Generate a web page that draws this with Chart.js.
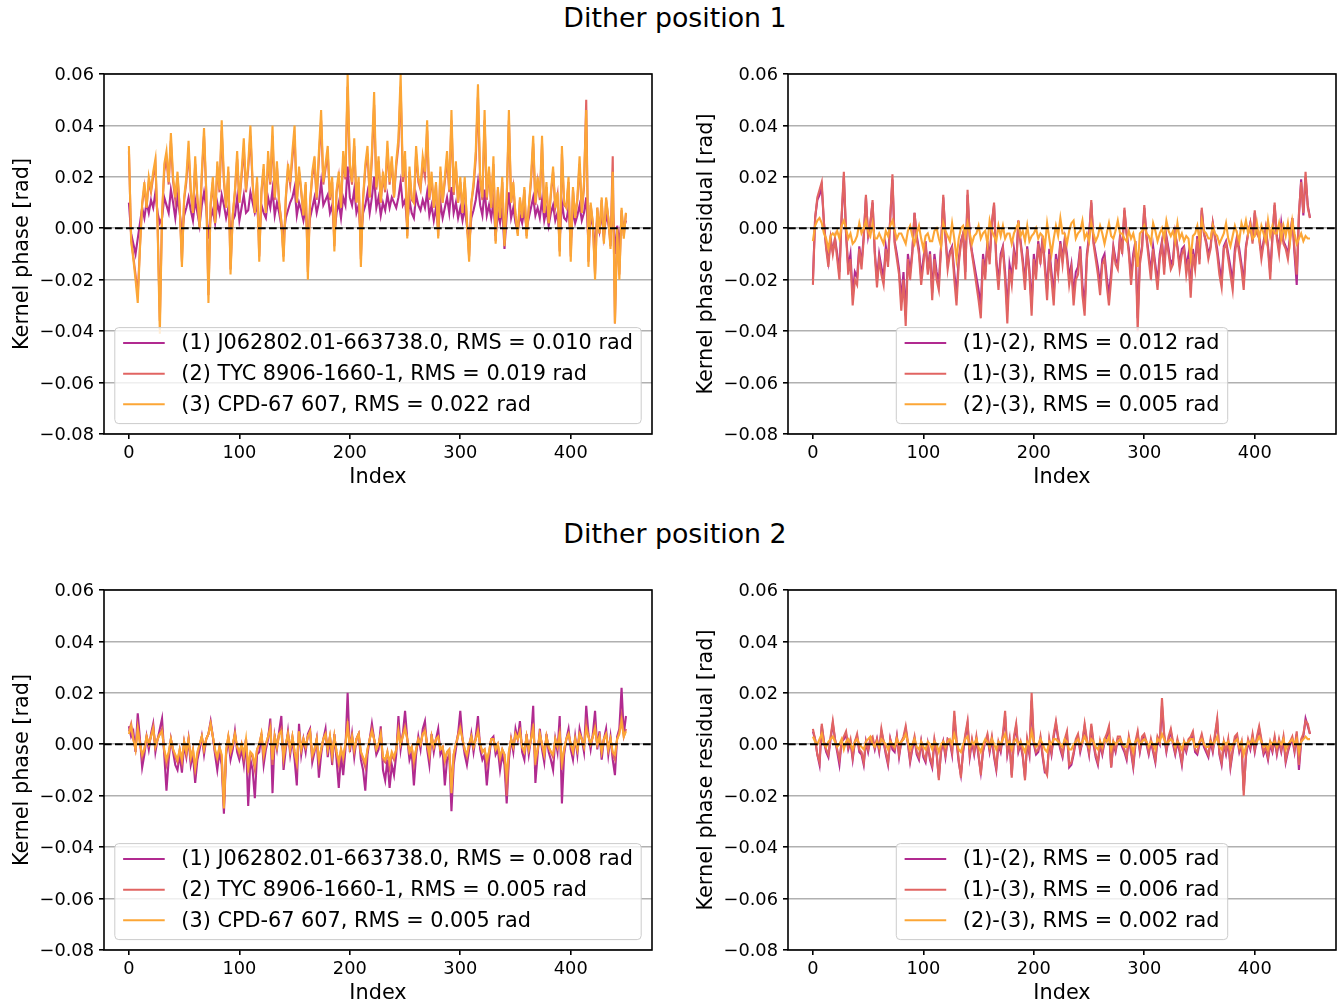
<!DOCTYPE html>
<html>
<head>
<meta charset="utf-8">
<script src="https://cdn.jsdelivr.net/npm/chart.js@4/dist/chart.umd.min.js"></script>
<style>
  html, body { margin: 0; padding: 0; background: #fff; width: 1343px; height: 1005px; overflow: hidden; }
  canvas { position: absolute; }
  .suptitle { position: absolute; left: 475px; width: 400px; text-align: center;
    font-family: "DejaVu Sans", sans-serif; font-size: 26.8px; line-height: 30px; color: #000; }
</style>
</head>
<body>
<div class="suptitle" style="top:3px">Dither position 1</div>
<div class="suptitle" style="top:519px">Dither position 2</div>
<canvas id="d1kp" width="672" height="450" style="left:0;top:54px"></canvas>
<canvas id="d1res" width="671" height="450" style="left:672px;top:54px"></canvas>
<canvas id="d2kp" width="672" height="450" style="left:0;top:570px"></canvas>
<canvas id="d2res" width="671" height="450" style="left:672px;top:570px"></canvas>
<script>
// Kernel-phase index (every second kernel phase)
const kpIndex = [
  0,2,4,6,8,10,12,14,16,18, 20,22,24,26,28,30,32,34,36,38,
  40,42,44,46,48,50,52,54,56,58, 60,62,64,66,68,70,72,74,76,78,
  80,82,84,86,88,90,92,94,96,98, 100,102,104,106,108,110,112,114,116,118,
  120,122,124,126,128,130,132,134,136,138, 140,142,144,146,148,150,152,154,156,158,
  160,162,164,166,168,170,172,174,176,178, 180,182,184,186,188,190,192,194,196,198,
  200,202,204,206,208,210,212,214,216,218, 220,222,224,226,228,230,232,234,236,238,
  240,242,244,246,248,250,252,254,256,258, 260,262,264,266,268,270,272,274,276,278,
  280,282,284,286,288,290,292,294,296,298, 300,302,304,306,308,310,312,314,316,318,
  320,322,324,326,328,330,332,334,336,338, 340,342,344,346,348,350,352,354,356,358,
  360,362,364,366,368,370,372,374,376,378, 380,382,384,386,388,390,392,394,396,398,
  400,402,404,406,408,410,412,414,416,418, 420,422,424,426,428,430,432,434,436,438,
  440,442,444,446,448,450
];

// Dither position 1: kernel phases of the three stars [rad]
const d1Star1 = [
  0.010,-0.002,-0.006,-0.010,-0.004,0.002,0.008,0.004,0.010,0.006,
  0.011,0.008,0.014,0.006,0.002,0.004,0.012,0.009,0.006,0.015,
  0.010,0.004,0.012,0.006,-0.002,0.005,0.008,0.012,0.007,0.003,
  0.011,0.006,0.001,0.009,0.014,0.008,-0.004,0.004,0.007,0.002,
  0.010,0.006,0.013,0.009,0.004,0.008,-0.002,0.003,0.005,0.012,
  0.003,0.008,0.013,0.006,0.007,0.014,0.010,0.006,0.009,-0.003,
  0.009,0.006,0.004,0.012,0.008,0.015,0.005,0.010,0.006,0.001,
  -0.003,0.004,0.007,0.010,0.012,0.016,0.005,0.010,0.007,0.003,
  0.008,-0.005,0.004,0.008,0.012,0.006,0.010,0.018,0.009,0.011,
  0.013,0.006,0.009,-0.002,0.006,0.010,0.004,0.012,0.009,0.024,
  0.012,0.009,0.015,0.006,0.009,-0.004,0.006,0.009,0.014,0.006,
  0.012,0.020,0.008,0.012,0.005,0.010,0.007,0.013,0.008,0.012,
  0.010,0.008,0.012,0.018,0.009,0.011,0.001,0.011,0.006,0.004,
  0.013,0.009,0.007,0.011,0.008,0.014,0.005,0.009,0.003,0.008,
  0.000,0.010,0.004,0.008,0.012,0.006,0.016,0.006,0.010,0.004,
  0.008,0.003,0.008,0.001,-0.006,0.004,0.007,0.011,0.018,0.009,
  0.005,0.015,0.005,0.009,0.004,0.010,-0.003,0.006,0.002,0.008,
  -0.008,0.005,0.014,0.004,0.008,0.002,-0.001,0.005,0.002,0.007,
  0.000,0.004,0.008,0.012,0.005,0.008,0.004,0.011,0.003,0.007,
  0.001,0.006,0.009,0.003,0.006,-0.004,0.010,0.004,0.003,0.008,
  -0.005,0.007,0.002,0.005,0.009,0.003,0.006,0.012,-0.006,0.004,
  0.001,-0.008,0.004,-0.001,0.006,-0.003,0.005,0.002,-0.004,0.008,
  -0.010,0.001,-0.006,0.004,0.000,0.003
];
const d1Star2 = [
  0.030,-0.004,-0.011,-0.018,-0.026,-0.007,0.009,0.016,0.008,0.018,
  0.014,0.020,0.025,0.001,-0.036,0.005,0.022,0.027,0.017,0.034,
  0.018,0.011,0.020,0.008,-0.013,0.011,0.018,0.030,0.014,0.006,
  0.025,0.011,0.001,0.020,0.036,0.014,-0.026,0.009,0.018,0.002,
  0.024,0.014,0.038,0.018,0.008,0.022,-0.016,0.005,0.014,0.027,
  0.010,0.020,0.031,0.014,0.023,0.036,0.017,0.006,0.018,-0.011,
  0.014,0.023,0.006,0.027,0.017,0.036,0.011,0.024,0.010,0.003,
  -0.011,0.011,0.023,0.017,0.027,0.036,0.010,0.022,0.014,0.005,
  0.017,-0.017,0.010,0.020,0.025,0.011,0.027,0.042,0.017,0.023,
  0.029,0.011,0.018,-0.007,0.014,0.020,0.008,0.027,0.019,0.055,
  0.023,0.017,0.032,0.010,0.018,-0.012,0.011,0.023,0.029,0.012,
  0.027,0.048,0.015,0.026,0.010,0.020,0.014,0.031,0.017,0.026,
  0.012,0.024,0.032,0.055,0.018,0.027,-0.003,0.022,0.011,0.010,
  0.029,0.018,0.015,0.025,0.020,0.038,0.011,0.020,0.008,0.017,
  -0.003,0.022,0.010,0.018,0.027,0.014,0.042,0.013,0.024,0.010,
  0.018,0.006,0.018,0.003,-0.011,0.010,0.016,0.027,0.051,0.018,
  0.011,0.042,0.011,0.022,0.008,0.025,-0.005,0.015,0.004,0.018,
  -0.006,0.011,0.042,0.010,0.016,0.005,-0.002,0.011,0.004,0.015,
  -0.003,0.008,0.018,0.033,0.009,0.018,0.011,0.033,0.006,0.016,
  0.002,0.013,0.022,0.008,0.013,-0.009,0.029,0.009,0.008,0.018,
  -0.011,0.015,0.004,0.011,0.025,0.006,0.016,0.050,-0.013,0.009,
  0.002,-0.018,0.008,-0.002,0.011,-0.005,0.011,0.004,-0.007,0.028,
  -0.037,0.000,-0.018,0.007,-0.003,0.006
];
const d1Star3 = [
  0.032,-0.005,-0.012,-0.020,-0.029,-0.008,0.010,0.018,0.008,0.020,
  0.015,0.022,0.027,0.000,-0.041,0.005,0.025,0.030,0.018,0.037,
  0.020,0.012,0.022,0.008,-0.015,0.012,0.020,0.034,0.015,0.006,
  0.028,0.012,0.000,0.022,0.039,0.015,-0.029,0.010,0.020,0.002,
  0.026,0.015,0.042,0.020,0.008,0.024,-0.018,0.005,0.015,0.030,
  0.010,0.022,0.035,0.015,0.025,0.040,0.018,0.006,0.020,-0.013,
  0.015,0.025,0.006,0.030,0.018,0.040,0.012,0.026,0.010,0.002,
  -0.013,0.012,0.025,0.018,0.030,0.040,0.010,0.024,0.015,0.005,
  0.018,-0.020,0.010,0.022,0.028,0.012,0.030,0.046,0.018,0.025,
  0.032,0.012,0.020,-0.009,0.015,0.022,0.008,0.030,0.020,0.060,
  0.025,0.018,0.035,0.010,0.020,-0.015,0.012,0.025,0.032,0.012,
  0.030,0.053,0.016,0.028,0.010,0.022,0.015,0.034,0.018,0.028,
  0.012,0.026,0.035,0.060,0.020,0.030,-0.004,0.024,0.012,0.010,
  0.032,0.020,0.016,0.028,0.022,0.042,0.012,0.022,0.008,0.018,
  -0.004,0.024,0.010,0.020,0.030,0.015,0.046,0.014,0.026,0.010,
  0.020,0.006,0.020,0.002,-0.013,0.010,0.018,0.030,0.056,0.020,
  0.012,0.046,0.012,0.024,0.008,0.028,-0.006,0.016,0.004,0.020,
  -0.007,0.012,0.046,0.010,0.018,0.005,-0.003,0.012,0.004,0.016,
  -0.004,0.008,0.020,0.036,0.010,0.020,0.012,0.036,0.006,0.018,
  0.002,0.014,0.024,0.008,0.014,-0.011,0.032,0.010,0.008,0.020,
  -0.013,0.016,0.004,0.012,0.028,0.006,0.018,0.046,-0.015,0.010,
  0.002,-0.020,0.008,-0.002,0.012,-0.006,0.012,0.004,-0.008,0.022,
  -0.037,0.000,-0.020,0.008,-0.004,0.006
];

// Dither position 1: pairwise residuals [rad]
const d1Res12 = [
  -0.020,0.004,0.011,0.013,0.016,0.002,-0.007,-0.013,-0.004,-0.009,
  -0.004,-0.010,-0.017,0.004,0.020,-0.002,-0.015,-0.010,-0.026,-0.017,
  -0.019,-0.007,-0.014,-0.003,0.012,-0.003,0.002,0.010,-0.009,-0.020,
  -0.010,-0.015,-0.019,-0.007,-0.013,0.004,0.019,-0.005,-0.010,-0.016,
  -0.028,-0.017,-0.034,-0.010,-0.017,-0.009,0.006,-0.003,-0.008,-0.019,
  -0.012,-0.005,-0.016,-0.009,-0.025,-0.010,-0.017,-0.021,-0.007,0.012,
  -0.003,-0.014,-0.009,-0.007,-0.017,-0.026,-0.012,-0.005,-0.002,-0.017,
  0.013,-0.003,-0.009,-0.014,-0.019,-0.024,-0.030,-0.010,-0.017,-0.005,
  -0.012,0.002,0.009,-0.012,-0.021,-0.010,-0.007,-0.017,-0.032,-0.014,
  -0.019,-0.008,-0.014,0.003,-0.005,-0.012,-0.021,-0.007,-0.016,-0.030,
  -0.010,-0.017,-0.005,-0.012,-0.003,-0.014,-0.024,-0.008,-0.017,-0.026,
  -0.010,-0.016,-0.005,-0.012,-0.004,-0.010,-0.019,-0.014,-0.026,-0.017,
  -0.015,-0.007,-0.022,-0.030,-0.010,-0.003,0.010,-0.005,-0.010,-0.015,
  -0.022,-0.012,-0.010,-0.019,-0.026,-0.017,-0.007,-0.012,-0.014,-0.003,
  -0.008,0.007,-0.002,-0.008,-0.019,-0.010,-0.005,-0.035,-0.012,-0.007,
  0.008,-0.003,-0.010,-0.017,-0.007,-0.014,-0.021,-0.010,-0.005,-0.015,
  -0.003,-0.008,-0.014,-0.012,-0.002,-0.007,-0.014,-0.008,-0.007,-0.015,
  -0.010,-0.024,-0.008,-0.014,-0.003,-0.012,0.007,-0.002,-0.005,-0.010,
  -0.007,0.002,-0.003,-0.008,-0.015,-0.020,-0.007,-0.005,-0.010,-0.015,
  -0.021,-0.008,-0.003,-0.008,-0.014,-0.021,-0.007,-0.002,0.002,-0.005,
  0.006,-0.002,-0.003,-0.010,-0.005,0.000,-0.007,-0.017,-0.003,0.009,
  -0.003,-0.008,0.002,-0.005,-0.007,-0.010,-0.003,0.004,-0.010,-0.022,
  0.005,0.019,0.005,0.020,0.009,0.004
];
const d1Res13 = [
  -0.022,0.004,0.012,0.015,0.018,0.002,-0.008,-0.015,-0.004,-0.010,
  -0.004,-0.012,-0.020,0.005,0.022,-0.002,-0.018,-0.012,-0.030,-0.020,
  -0.022,-0.008,-0.016,-0.004,0.013,-0.004,0.002,0.011,-0.010,-0.023,
  -0.012,-0.018,-0.022,-0.008,-0.015,0.004,0.021,-0.006,-0.012,-0.018,
  -0.032,-0.020,-0.038,-0.012,-0.020,-0.010,0.006,-0.004,-0.010,-0.022,
  -0.014,-0.006,-0.018,-0.010,-0.028,-0.012,-0.020,-0.024,-0.008,0.013,
  -0.004,-0.016,-0.010,-0.008,-0.020,-0.030,-0.014,-0.006,-0.002,-0.020,
  0.015,-0.004,-0.010,-0.016,-0.022,-0.028,-0.035,-0.012,-0.020,-0.006,
  -0.014,0.002,0.010,-0.014,-0.024,-0.012,-0.008,-0.020,-0.037,-0.016,
  -0.022,-0.010,-0.016,0.003,-0.006,-0.014,-0.024,-0.008,-0.018,-0.034,
  -0.012,-0.020,-0.006,-0.014,-0.004,-0.016,-0.028,-0.010,-0.020,-0.030,
  -0.012,-0.018,-0.006,-0.014,-0.005,-0.012,-0.022,-0.016,-0.030,-0.020,
  -0.018,-0.008,-0.026,-0.034,-0.012,-0.004,0.011,-0.006,-0.012,-0.018,
  -0.026,-0.014,-0.012,-0.022,-0.030,-0.020,-0.008,-0.014,-0.016,-0.004,
  -0.010,0.008,-0.002,-0.010,-0.022,-0.012,-0.006,-0.040,-0.014,-0.008,
  0.009,-0.004,-0.012,-0.020,-0.008,-0.016,-0.024,-0.012,-0.006,-0.018,
  -0.004,-0.010,-0.016,-0.014,-0.002,-0.008,-0.016,-0.010,-0.008,-0.018,
  -0.012,-0.027,-0.010,-0.016,-0.004,-0.014,0.008,-0.002,-0.006,-0.012,
  -0.008,0.002,-0.004,-0.010,-0.018,-0.023,-0.008,-0.006,-0.012,-0.018,
  -0.024,-0.010,-0.004,-0.010,-0.016,-0.024,-0.008,-0.002,0.002,-0.006,
  0.007,-0.002,-0.004,-0.012,-0.006,0.000,-0.008,-0.020,-0.004,0.010,
  -0.004,-0.010,0.002,-0.006,-0.008,-0.012,-0.004,0.004,-0.008,-0.018,
  0.006,0.018,0.006,0.022,0.008,0.004
];
const d1Res23 = [
  -0.005,0.001,0.003,0.004,0.002,-0.002,-0.004,-0.008,-0.003,-0.002,
  -0.003,-0.001,-0.004,0.001,0.003,0.000,-0.004,-0.002,-0.006,-0.005,
  -0.003,0.002,-0.002,0.000,0.003,-0.001,-0.003,0.002,-0.004,-0.004,
  -0.002,-0.004,-0.006,-0.001,-0.003,0.001,0.003,-0.001,-0.004,-0.002,
  -0.002,-0.004,-0.006,-0.001,0.001,-0.003,-0.006,-0.002,0.001,-0.004,
  -0.008,-0.003,-0.002,-0.005,-0.005,-0.001,0.000,-0.004,-0.007,0.002,
  -0.001,-0.003,-0.005,0.002,-0.004,-0.012,-0.004,0.000,0.001,-0.003,
  0.002,-0.002,-0.006,-0.003,-0.002,0.001,-0.004,-0.002,-0.001,-0.006,
  0.003,-0.001,-0.003,-0.005,0.001,-0.003,0.001,-0.004,-0.002,-0.002,
  -0.006,-0.002,0.000,0.002,-0.003,-0.001,-0.005,0.001,-0.005,-0.003,
  -0.002,0.000,-0.004,-0.002,-0.003,-0.007,0.002,-0.004,-0.010,-0.004,
  0.001,-0.003,0.004,-0.002,-0.002,-0.006,-0.001,0.002,0.003,-0.004,
  -0.002,-0.001,0.003,-0.004,-0.002,-0.005,0.002,-0.002,-0.005,-0.003,
  0.001,-0.002,-0.006,-0.002,0.002,-0.003,-0.004,-0.001,0.003,-0.002,
  -0.002,-0.004,-0.005,-0.001,-0.004,-0.002,-0.006,-0.015,-0.002,-0.001,
  0.001,-0.002,-0.003,-0.006,0.002,-0.001,-0.005,-0.002,0.000,-0.004,
  0.003,-0.001,-0.003,-0.001,-0.005,0.002,-0.004,-0.002,-0.005,-0.003,
  -0.004,-0.012,-0.003,-0.002,0.001,-0.005,0.003,-0.001,-0.002,-0.004,
  -0.004,0.001,-0.002,-0.003,-0.006,-0.004,-0.002,0.002,-0.004,-0.007,
  -0.003,0.001,-0.002,-0.005,0.002,-0.001,0.003,-0.002,0.001,-0.004,
  -0.003,0.002,-0.004,0.001,-0.002,-0.005,0.003,-0.003,0.001,-0.002,
  -0.002,0.002,-0.004,0.001,-0.003,0.002,-0.005,0.003,-0.002,-0.006,
  -0.004,-0.002,-0.005,-0.003,-0.004,-0.004
];

// Dither position 2: kernel phases of the three stars [rad]
const d2Star1 = [
  0.007,0.003,0.005,-0.003,0.012,0.002,-0.009,-0.004,0.003,-0.002,
  0.004,0.008,-0.003,0.002,0.006,0.010,-0.004,-0.018,-0.006,0.002,
  -0.003,-0.008,-0.010,-0.004,-0.011,0.000,-0.005,0.002,-0.008,-0.004,
  -0.015,-0.006,-0.002,0.003,-0.004,0.002,0.004,0.009,0.003,-0.004,
  -0.010,-0.003,-0.008,-0.027,-0.004,0.002,-0.006,-0.002,0.005,-0.003,
  -0.006,-0.002,-0.008,0.002,-0.024,-0.006,-0.010,-0.021,-0.004,-0.003,
  0.004,-0.008,-0.002,0.002,0.010,-0.019,0.003,-0.002,0.005,0.011,
  -0.010,-0.002,0.005,-0.004,0.002,-0.006,-0.016,0.008,-0.004,0.002,
  -0.003,0.004,0.006,-0.007,-0.003,0.002,-0.013,-0.004,0.002,0.006,
  -0.005,0.003,-0.008,0.004,-0.006,-0.017,-0.004,-0.012,-0.002,0.020,
  -0.003,0.004,-0.005,0.002,0.004,-0.006,-0.010,-0.018,-0.004,0.002,
  0.008,0.002,-0.004,-0.002,0.007,-0.010,-0.014,-0.006,-0.017,-0.008,
  -0.012,-0.004,0.011,-0.002,0.004,0.013,0.002,-0.006,-0.003,-0.016,
  -0.004,0.003,-0.002,0.006,0.009,-0.002,-0.008,0.004,-0.003,0.002,
  0.006,-0.004,-0.002,-0.016,-0.006,-0.004,-0.026,-0.008,-0.002,0.004,
  0.013,0.002,-0.004,-0.008,-0.002,0.004,-0.003,0.003,0.011,-0.002,
  -0.006,-0.004,-0.016,-0.006,0.002,0.003,-0.004,-0.002,-0.010,-0.004,
  -0.008,-0.023,-0.006,0.002,-0.003,0.006,0.002,0.009,-0.003,-0.006,
  0.004,-0.004,0.002,0.015,-0.015,-0.004,0.006,-0.002,-0.007,0.004,
  -0.003,-0.006,-0.010,0.002,-0.003,0.011,-0.023,-0.004,0.002,0.006,
  -0.002,-0.006,0.003,-0.004,0.006,0.002,-0.003,0.015,0.004,-0.002,
  0.004,0.013,-0.002,0.005,-0.006,0.002,0.006,-0.004,0.003,-0.006,
  -0.012,0.003,0.006,0.022,0.004,0.011
];
const d2Star2 = [
  0.005,0.008,0.002,-0.002,0.007,0.001,-0.005,-0.002,0.003,0.000,
  0.003,0.007,-0.001,0.002,0.004,0.006,-0.003,-0.008,-0.004,0.002,
  -0.002,-0.005,-0.007,-0.002,-0.007,0.001,-0.004,0.002,-0.006,-0.002,
  -0.010,-0.004,0.000,0.003,-0.002,0.002,0.004,0.008,0.003,-0.003,
  -0.006,-0.001,-0.005,-0.024,-0.003,0.003,-0.003,0.000,0.004,-0.001,
  -0.004,0.000,-0.005,0.002,-0.011,-0.004,-0.005,-0.010,-0.002,0.000,
  0.004,-0.005,0.000,0.003,0.007,-0.008,0.003,-0.001,0.004,0.006,
  -0.006,0.000,0.004,-0.002,0.003,-0.003,-0.008,0.005,-0.002,0.002,
  -0.001,0.003,0.005,-0.005,-0.002,0.002,-0.007,-0.002,0.002,0.004,
  -0.002,0.003,-0.005,0.003,-0.003,-0.008,-0.002,-0.006,0.000,0.009,
  -0.001,0.003,-0.003,0.002,0.004,-0.003,-0.006,-0.009,-0.002,0.002,
  0.006,0.002,-0.002,0.000,0.004,-0.006,-0.007,-0.003,-0.009,-0.004,
  -0.006,-0.002,0.006,0.000,0.004,0.007,0.002,-0.003,-0.001,-0.008,
  -0.002,0.002,0.000,0.004,0.006,0.000,-0.005,0.003,-0.001,0.002,
  0.003,-0.002,-0.001,-0.007,-0.003,-0.002,-0.016,-0.004,0.000,0.004,
  0.007,0.002,-0.002,-0.005,0.000,0.003,-0.001,0.002,0.006,0.000,
  -0.003,-0.002,-0.008,-0.003,0.002,0.002,-0.002,0.000,-0.006,-0.002,
  -0.004,-0.020,-0.003,0.002,-0.001,0.004,0.002,0.005,-0.001,-0.003,
  0.003,-0.002,0.002,0.008,-0.008,-0.002,0.004,0.000,-0.004,0.003,
  -0.001,-0.003,-0.005,0.002,-0.001,0.005,-0.010,-0.002,0.002,0.004,
  0.000,-0.003,0.002,-0.002,0.004,0.002,-0.001,0.008,0.003,0.000,
  0.003,0.007,0.000,0.003,-0.003,0.002,0.004,-0.002,0.002,-0.004,
  -0.006,0.002,0.005,0.011,0.003,0.006
];
const d2Star3 = [
  0.004,0.007,0.002,-0.002,0.006,0.000,-0.004,-0.002,0.003,0.000,
  0.003,0.006,-0.001,0.002,0.004,0.005,-0.002,-0.006,-0.003,0.002,
  -0.002,-0.004,-0.006,-0.002,-0.006,0.001,-0.003,0.002,-0.005,-0.002,
  -0.009,-0.003,0.000,0.003,-0.002,0.002,0.004,0.008,0.003,-0.002,
  -0.005,-0.001,-0.004,-0.025,-0.002,0.003,-0.003,0.000,0.004,-0.001,
  -0.003,0.000,-0.004,0.002,-0.009,-0.003,-0.004,-0.008,-0.002,0.000,
  0.004,-0.004,0.000,0.003,0.006,-0.006,0.003,-0.001,0.004,0.005,
  -0.005,0.000,0.004,-0.002,0.003,-0.003,-0.007,0.005,-0.002,0.002,
  -0.001,0.003,0.005,-0.004,-0.002,0.002,-0.006,-0.002,0.002,0.004,
  -0.002,0.003,-0.004,0.003,-0.003,-0.007,-0.002,-0.005,0.000,0.007,
  -0.001,0.003,-0.002,0.002,0.004,-0.003,-0.005,-0.007,-0.002,0.002,
  0.005,0.002,-0.002,0.000,0.004,-0.005,-0.006,-0.003,-0.007,-0.003,
  -0.005,-0.002,0.005,0.000,0.003,0.006,0.002,-0.003,-0.001,-0.006,
  -0.002,0.002,0.000,0.004,0.005,0.000,-0.004,0.003,-0.001,0.002,
  0.003,-0.002,-0.001,-0.006,-0.003,-0.002,-0.019,-0.004,0.000,0.003,
  0.006,0.002,-0.002,-0.004,0.000,0.003,-0.001,0.002,0.005,0.000,
  -0.003,-0.002,-0.006,-0.003,0.002,0.002,-0.002,0.000,-0.005,-0.002,
  -0.004,-0.012,-0.003,0.002,-0.001,0.004,0.002,0.005,-0.001,-0.003,
  0.003,-0.002,0.002,0.006,-0.006,-0.002,0.004,0.000,-0.004,0.003,
  -0.001,-0.003,-0.004,0.002,-0.001,0.004,-0.007,-0.002,0.002,0.004,
  0.000,-0.003,0.002,-0.002,0.004,0.002,-0.001,0.006,0.003,0.000,
  0.003,0.006,0.000,0.003,-0.003,0.002,0.004,-0.002,0.002,-0.003,
  -0.004,0.002,0.004,0.009,0.003,0.005
];

// Dither position 2: pairwise residuals [rad]
const d2Res12 = [
  0.005,0.002,-0.004,-0.008,0.007,0.001,-0.003,-0.005,0.002,0.008,
  0.002,-0.003,-0.008,0.001,0.002,0.004,-0.002,0.001,-0.006,0.001,
  0.003,-0.003,-0.004,-0.008,0.001,-0.003,0.002,0.002,-0.002,0.002,
  -0.003,0.005,0.001,-0.004,-0.008,0.002,-0.002,-0.003,0.003,-0.005,
  0.001,0.002,0.006,0.000,-0.007,-0.002,0.002,-0.004,-0.006,0.001,
  -0.005,-0.007,0.000,-0.006,-0.009,0.001,-0.004,-0.013,-0.003,0.001,
  -0.005,0.002,0.001,-0.004,0.011,0.001,-0.007,-0.012,-0.003,0.003,
  0.008,-0.005,0.001,-0.004,0.002,-0.005,-0.011,-0.003,0.001,0.003,
  -0.003,0.002,-0.005,-0.010,0.000,-0.003,0.003,0.011,-0.004,0.001,
  -0.012,0.002,0.007,-0.003,0.000,-0.005,-0.013,0.001,-0.004,0.017,
  0.000,-0.004,-0.003,0.002,-0.005,-0.011,-0.011,0.001,-0.004,0.003,
  0.008,0.002,-0.002,-0.005,0.001,0.004,-0.009,-0.008,-0.004,0.001,
  0.003,-0.003,0.001,0.007,0.001,-0.004,0.007,0.000,-0.005,-0.008,
  0.000,-0.004,0.001,0.003,0.006,-0.009,0.000,-0.003,0.002,0.002,
  -0.001,-0.003,-0.006,0.002,-0.003,-0.009,0.000,0.004,-0.003,0.002,
  0.003,0.000,-0.004,0.001,-0.003,-0.007,0.002,0.000,0.015,0.003,
  -0.003,0.002,0.005,0.000,-0.004,0.001,-0.003,-0.008,0.000,-0.003,
  0.001,0.002,0.004,-0.003,-0.004,0.000,0.003,-0.001,-0.003,-0.005,
  0.001,-0.003,0.003,0.009,-0.004,-0.008,0.000,-0.004,0.001,-0.009,
  -0.003,0.002,0.003,-0.003,0.000,-0.018,-0.005,0.001,-0.002,0.003,
  -0.003,0.002,0.006,0.001,-0.004,-0.002,-0.006,0.000,-0.003,0.002,
  -0.004,0.001,-0.003,0.002,-0.007,-0.003,0.000,0.002,-0.003,0.004,
  -0.010,0.001,0.003,0.010,0.007,0.004
];
const d2Res13 = [
  0.006,0.002,-0.004,-0.007,0.008,0.001,-0.002,-0.004,0.003,0.009,
  0.002,-0.002,-0.006,0.001,0.003,0.005,-0.001,0.002,-0.005,0.001,
  0.004,-0.002,-0.003,-0.007,0.001,-0.002,0.002,0.003,-0.001,0.002,
  -0.002,0.006,0.001,-0.003,-0.007,0.002,-0.001,-0.002,0.003,-0.004,
  0.001,0.003,0.007,0.001,-0.006,-0.001,0.003,-0.003,-0.005,0.001,
  -0.004,-0.006,0.000,-0.005,-0.008,0.002,-0.003,-0.014,-0.002,0.001,
  -0.004,0.002,0.001,-0.003,0.013,0.002,-0.006,-0.013,-0.002,0.004,
  0.009,-0.004,0.002,-0.003,0.003,-0.004,-0.012,-0.002,0.001,0.004,
  -0.002,0.003,-0.004,-0.009,0.001,-0.002,0.004,0.013,-0.003,0.002,
  -0.013,0.003,0.008,-0.002,0.001,-0.004,-0.014,0.002,-0.003,0.020,
  0.001,-0.003,-0.002,0.003,-0.004,-0.010,-0.012,0.002,-0.003,0.004,
  0.009,0.003,-0.001,-0.004,0.002,0.005,-0.008,-0.007,-0.003,0.002,
  0.004,-0.002,0.001,0.008,0.002,-0.003,0.008,0.001,-0.004,-0.007,
  0.001,-0.003,0.002,0.004,0.007,-0.009,0.001,-0.002,0.003,0.003,
  0.000,-0.002,-0.005,0.003,-0.002,-0.008,0.001,0.005,-0.002,0.003,
  0.004,0.001,-0.003,0.002,-0.002,-0.006,0.003,0.001,0.018,0.004,
  -0.002,0.003,0.006,0.001,-0.003,0.002,-0.002,-0.007,0.001,-0.002,
  0.002,0.003,0.005,-0.002,-0.003,0.001,0.004,0.000,-0.002,-0.004,
  0.002,-0.002,0.004,0.010,-0.003,-0.007,0.001,-0.003,0.002,-0.008,
  -0.002,0.003,0.004,-0.002,0.001,-0.020,-0.004,0.002,-0.001,0.004,
  -0.002,0.003,0.007,0.002,-0.003,-0.001,-0.005,0.001,-0.002,0.003,
  -0.003,0.002,-0.002,0.003,-0.006,-0.002,0.001,0.003,-0.002,0.005,
  -0.008,0.002,0.004,0.009,0.008,0.004
];
const d2Res23 = [
  0.003,0.001,0.000,0.002,0.004,0.000,-0.001,0.001,0.002,0.003,
  0.001,-0.001,0.000,0.002,-0.002,0.001,0.002,0.000,-0.002,0.001,
  0.002,0.000,-0.001,-0.002,0.001,0.002,0.003,0.000,-0.001,0.001,
  -0.001,0.002,0.001,0.000,-0.002,0.001,0.000,-0.001,0.002,0.000,
  0.001,0.002,0.004,0.001,-0.002,0.000,0.002,-0.001,-0.002,0.001,
  -0.001,-0.002,0.001,0.000,-0.002,0.001,0.000,-0.003,0.000,0.001,
  -0.001,0.001,0.002,0.000,0.004,0.001,-0.002,-0.003,0.000,0.002,
  0.003,-0.001,0.001,0.000,0.002,-0.001,-0.003,0.000,0.002,0.001,
  -0.001,0.002,0.000,-0.002,0.001,0.000,0.002,0.004,0.000,0.001,
  -0.002,0.001,0.002,0.000,0.001,-0.001,-0.003,0.001,0.000,0.005,
  0.001,-0.001,0.000,0.002,0.000,-0.002,-0.003,0.001,0.000,0.002,
  0.002,0.001,0.000,-0.001,0.002,0.001,-0.002,-0.002,0.000,0.001,
  0.002,0.000,0.001,0.003,0.001,-0.001,0.002,0.001,-0.001,-0.002,
  0.001,-0.001,0.002,0.001,0.003,-0.002,0.001,0.000,0.001,0.002,
  0.000,-0.001,-0.001,0.002,0.000,-0.003,0.001,0.002,0.000,0.001,
  0.002,0.001,-0.001,0.001,0.000,-0.002,0.002,0.001,0.004,0.002,
  0.000,0.001,0.002,0.001,-0.001,0.001,0.000,-0.002,0.001,0.000,
  0.001,0.002,0.002,-0.001,-0.001,0.001,0.002,0.000,-0.001,-0.001,
  0.001,0.000,0.001,0.003,-0.001,-0.002,0.001,0.000,0.001,-0.002,
  0.000,0.001,0.002,-0.001,0.001,-0.004,-0.001,0.001,0.000,0.002,
  0.000,0.001,0.003,0.001,-0.001,0.000,-0.002,0.001,0.000,0.001,
  -0.001,0.001,0.000,0.002,-0.002,0.000,0.001,0.002,0.000,0.002,
  -0.003,0.001,0.002,0.003,0.002,0.002
];

// Axis ticks
const xTicks = [0, 100, 200, 300, 400];
const yTicks = [-0.08, -0.06, -0.04, -0.02, 0.00, 0.02, 0.04, 0.06];

// Legend entries
const d1StarLabels = [
  '(1) J062802.01-663738.0, RMS = 0.010 rad',
  '(2) TYC 8906-1660-1, RMS = 0.019 rad',
  '(3) CPD-67 607, RMS = 0.022 rad'
];
const d1ResLabels = ['(1)-(2), RMS = 0.012 rad', '(1)-(3), RMS = 0.015 rad', '(2)-(3), RMS = 0.005 rad'];
const d2StarLabels = [
  '(1) J062802.01-663738.0, RMS = 0.008 rad',
  '(2) TYC 8906-1660-1, RMS = 0.005 rad',
  '(3) CPD-67 607, RMS = 0.005 rad'
];
const d2ResLabels = ['(1)-(2), RMS = 0.005 rad', '(1)-(3), RMS = 0.006 rad', '(2)-(3), RMS = 0.002 rad'];

const FAMILY = '"DejaVu Sans", "Liberation Sans", sans-serif';
const LINE_COLORS = ['#b12a90', '#e16462', '#fca636'];

function fmtY(v) {
  const r = Math.abs(v) < 1e-9 ? 0 : v;
  return (r < 0 ? '\u2212' : '') + Math.abs(r).toFixed(2);
}

// dashed horizontal reference line at zero
const zeroLine = {
  id: 'zeroLine',
  afterDatasetsDraw(chart) {
    const { ctx, chartArea: a, scales: { y } } = chart;
    const py = y.getPixelForValue(0);
    ctx.save();
    ctx.beginPath();
    ctx.setLineDash([7.7, 3.3]);
    ctx.lineWidth = 2;
    ctx.strokeStyle = '#000';
    ctx.moveTo(a.left, py);
    ctx.lineTo(a.right, py);
    ctx.stroke();
    ctx.restore();
  }
};

// full box around the plotting area
const frame = {
  id: 'frame',
  afterDraw(chart) {
    const { ctx, chartArea: a } = chart;
    ctx.save();
    ctx.lineWidth = 1.6;
    ctx.strokeStyle = '#000';
    ctx.strokeRect(a.left, a.top, a.right - a.left, a.bottom - a.top);
    ctx.restore();
  }
};

// legend box centred along the bottom of the plotting area
const boxLegend = {
  id: 'boxLegend',
  afterDraw(chart) {
    const { ctx, chartArea: a } = chart;
    const fs = 20.8;
    ctx.save();
    ctx.font = fs + 'px ' + FAMILY;
    const sets = chart.data.datasets.slice().sort((p, q) => q.order - p.order);
    const tw = Math.max(...sets.map(d => ctx.measureText(d.label).width));
    const pad = 0.4 * fs, hl = 2 * fs, htp = 0.8 * fs;
    const w = pad + hl + htp + tw + pad;
    const h = 96;
    const x0 = (a.left + a.right) / 2 - w / 2;
    const y1 = a.bottom - 10.4;
    const y0 = y1 - h;
    ctx.beginPath();
    ctx.roundRect(x0, y0, w, h, 4);
    ctx.fillStyle = 'rgba(255,255,255,0.8)';
    ctx.fill();
    ctx.lineWidth = 1;
    ctx.strokeStyle = '#cccccc';
    ctx.stroke();
    sets.forEach((d, i) => {
      const cy = y0 + 15.5 + i * 30.6;
      ctx.beginPath();
      ctx.lineWidth = 2;
      ctx.strokeStyle = d.borderColor;
      ctx.moveTo(x0 + pad, cy);
      ctx.lineTo(x0 + pad + hl, cy);
      ctx.stroke();
      ctx.fillStyle = '#000';
      ctx.textBaseline = 'middle';
      ctx.textAlign = 'left';
      ctx.fillText(d.label, x0 + pad + hl + htp, cy + 1);
    });
    ctx.restore();
  }
};

function makePanel(id, series, labels, yTitle, yWidth, titlePad, padRight) {
  new Chart(document.getElementById(id), {
    type: 'line',
    data: {
      datasets: series.map((s, i) => ({
        label: labels[i],
        data: kpIndex.map((x, j) => ({ x: x, y: s[j] })),
        borderColor: LINE_COLORS[i],
        borderWidth: 2.1,
        pointRadius: 0,
        tension: 0,
        fill: false,
        order: series.length - 1 - i   // later stars drawn on top
      }))
    },
    options: {
      responsive: false,
      animation: false,
      devicePixelRatio: 1,
      events: [],
      layout: { padding: { top: 20, bottom: 4, left: 0, right: padRight } },
      plugins: { legend: { display: false }, tooltip: { enabled: false } },
      scales: {
        x: {
          type: 'linear',
          min: -22.55,
          max: 473.55,
          afterBuildTicks: s => { s.ticks = xTicks.map(v => ({ value: v })); },
          afterFit: s => { s.height = 66; },
          border: { display: false },
          grid: { drawOnChartArea: false, drawTicks: true, tickLength: 5, color: '#000', tickColor: '#000', lineWidth: 1.6, tickWidth: 1.6 },
          ticks: { font: { family: FAMILY, size: 17.8 }, color: '#000', padding: 4, maxRotation: 0, autoSkip: false, callback: v => String(v) },
          title: { display: true, text: 'Index', font: { family: FAMILY, size: 20.8 }, color: '#000', padding: { top: 0, bottom: 10 } }
        },
        y: {
          type: 'linear',
          min: -0.08,
          max: 0.06,
          afterBuildTicks: s => { s.ticks = yTicks.map(v => ({ value: v })); },
          afterFit: s => { s.width = yWidth; },
          border: { display: false },
          grid: { color: '#b0b0b0', lineWidth: 1.6, tickColor: '#000', tickLength: 5, tickWidth: 1.6 },
          ticks: { font: { family: FAMILY, size: 17.8 }, color: '#000', padding: 5, labelOffset: 1.5, autoSkip: false, callback: v => fmtY(v) },
          title: { display: true, text: yTitle, font: { family: FAMILY, size: 20.8 }, color: '#000', padding: { top: titlePad, bottom: 0 } }
        }
      }
    },
    plugins: [zeroLine, frame, boxLegend]
  });
}

makePanel('d1kp', [d1Star1, d1Star2, d1Star3], d1StarLabels, 'Kernel phase [rad]', 104, 10, 20);
makePanel('d1res', [d1Res12, d1Res13, d1Res23], d1ResLabels, 'Kernel phase residual [rad]', 116, 22, 7);
makePanel('d2kp', [d2Star1, d2Star2, d2Star3], d2StarLabels, 'Kernel phase [rad]', 104, 10, 20);
makePanel('d2res', [d2Res12, d2Res13, d2Res23], d2ResLabels, 'Kernel phase residual [rad]', 116, 22, 7);
</script>
</body>
</html>
